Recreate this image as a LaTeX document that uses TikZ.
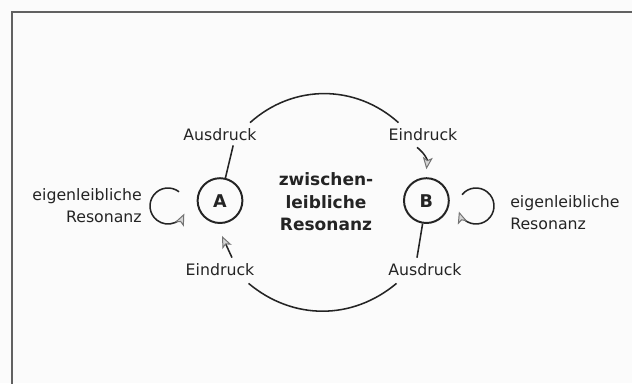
\documentclass[tikz,border=0pt]{standalone}
\usepackage{fontspec}
\setmainfont{DejaVu Sans}
\usepackage{xcolor}
\usetikzlibrary{arrows.meta}
\definecolor{res_ink}{rgb}{0.14,0.14,0.14}
\definecolor{res_frame}{rgb}{0.38,0.38,0.38}
\definecolor{res_tip}{rgb}{0.45,0.45,0.45}
\definecolor{res_paper}{rgb}{0.985,0.985,0.985}

\begin{document}
\begin{tikzpicture}[
    person/.style={circle, draw=res_ink, line width=1.4pt, minimum size=1.12cm, inner sep=0pt,
      text=res_ink, font=\fontsize{12.5}{14}\selectfont\bfseries},
    lbl/.style={text=res_ink, inner sep=0pt, font=\fontsize{11.2}{15.6}\selectfont},
    link/.style={res_ink, line width=1.1pt},
    pulse/.style={link, -{Stealth[length=0.3cm, width=0.25cm, inset=0.07cm, color=res_tip,
      fill=res_tip!30, line width=0.7pt]}}
  ]
    % Sheet: 15.8cm x 9.575cm
    \useasboundingbox (0,0) rectangle (15.8,9.575);
    \clip (0,0) rectangle (15.8,9.575);
    \fill[res_paper] (0,0) rectangle (15.8,9.575);

    % Frame, only left and top edge fall on the sheet
    \draw[res_frame, line width=1.4pt] (0.3,-0.2) -- (0.3,9.275) -- (16.0,9.275);

    % The two persons
    \node[person] (A) at (5.5,4.56) {A};
    \node[person] (B) at (10.66,4.56) {B};

    % Centre text
    \node[text=res_ink, align=center, font=\fontsize{12.1}{16}\selectfont\bfseries] (between)
      at (8.15,4.525) {zwischen-\\leibliche\\Resonanz};

    % Expression / impression labels
    \node[lbl] (ausA) at (5.5,6.2) {Ausdruck};
    \node[lbl] (einB) at (10.575,6.2) {Eindruck};
    \node[lbl] (einA) at (5.5,2.825) {Eindruck};
    \node[lbl] (ausB) at (10.625,2.825) {Ausdruck};

    % Own-body resonance texts
    \node[lbl, anchor=east, align=right] (ownA) at (3.55,4.425) {eigenleibliche\\Resonanz};
    \node[lbl, anchor=west, align=left] (ownB) at (12.75,4.25) {eigenleibliche\\Resonanz};

    % Big loop between A and B
    \draw[link] ([shift={(-0.17,0.15)}]ausA.north east) to[bend left=42]
      ([shift={(0.25,0.15)}]einB.north west);
    \draw[link] ([shift={(-0.15,-0.175)}]einA.south east) to[bend right=40]
      ([shift={(0.21,-0.175)}]ausB.south west);

    % Short pieces to and from the persons
    \draw[link] ([shift={(0.33,-0.1)}]ausA.south) -- (A);
    \draw[link] (B) -- ([shift={(-0.2,0.15)}]ausB.north);
    \draw[pulse] ([shift={(-0.15,-0.15)}]einB.south) to[bend left=30] ([yshift=0.2cm]B.north);
    \draw[pulse] ([shift={(0.3,0.15)}]einA.north) -- ([shift={(0.05,-0.3)}]A.south);

    % Self loops
    \coordinate (selfA) at (4.2,4.425);
    \coordinate (selfB) at (11.9,4.425);
    \draw[pulse] ([shift={(52:0.45)}]selfA) arc[start angle=52, end angle=335, radius=0.45];
    \draw[pulse] ([shift={(141:0.45)}]selfB) arc[start angle=141, end angle=-162, radius=0.45];
\end{tikzpicture}
\end{document}
